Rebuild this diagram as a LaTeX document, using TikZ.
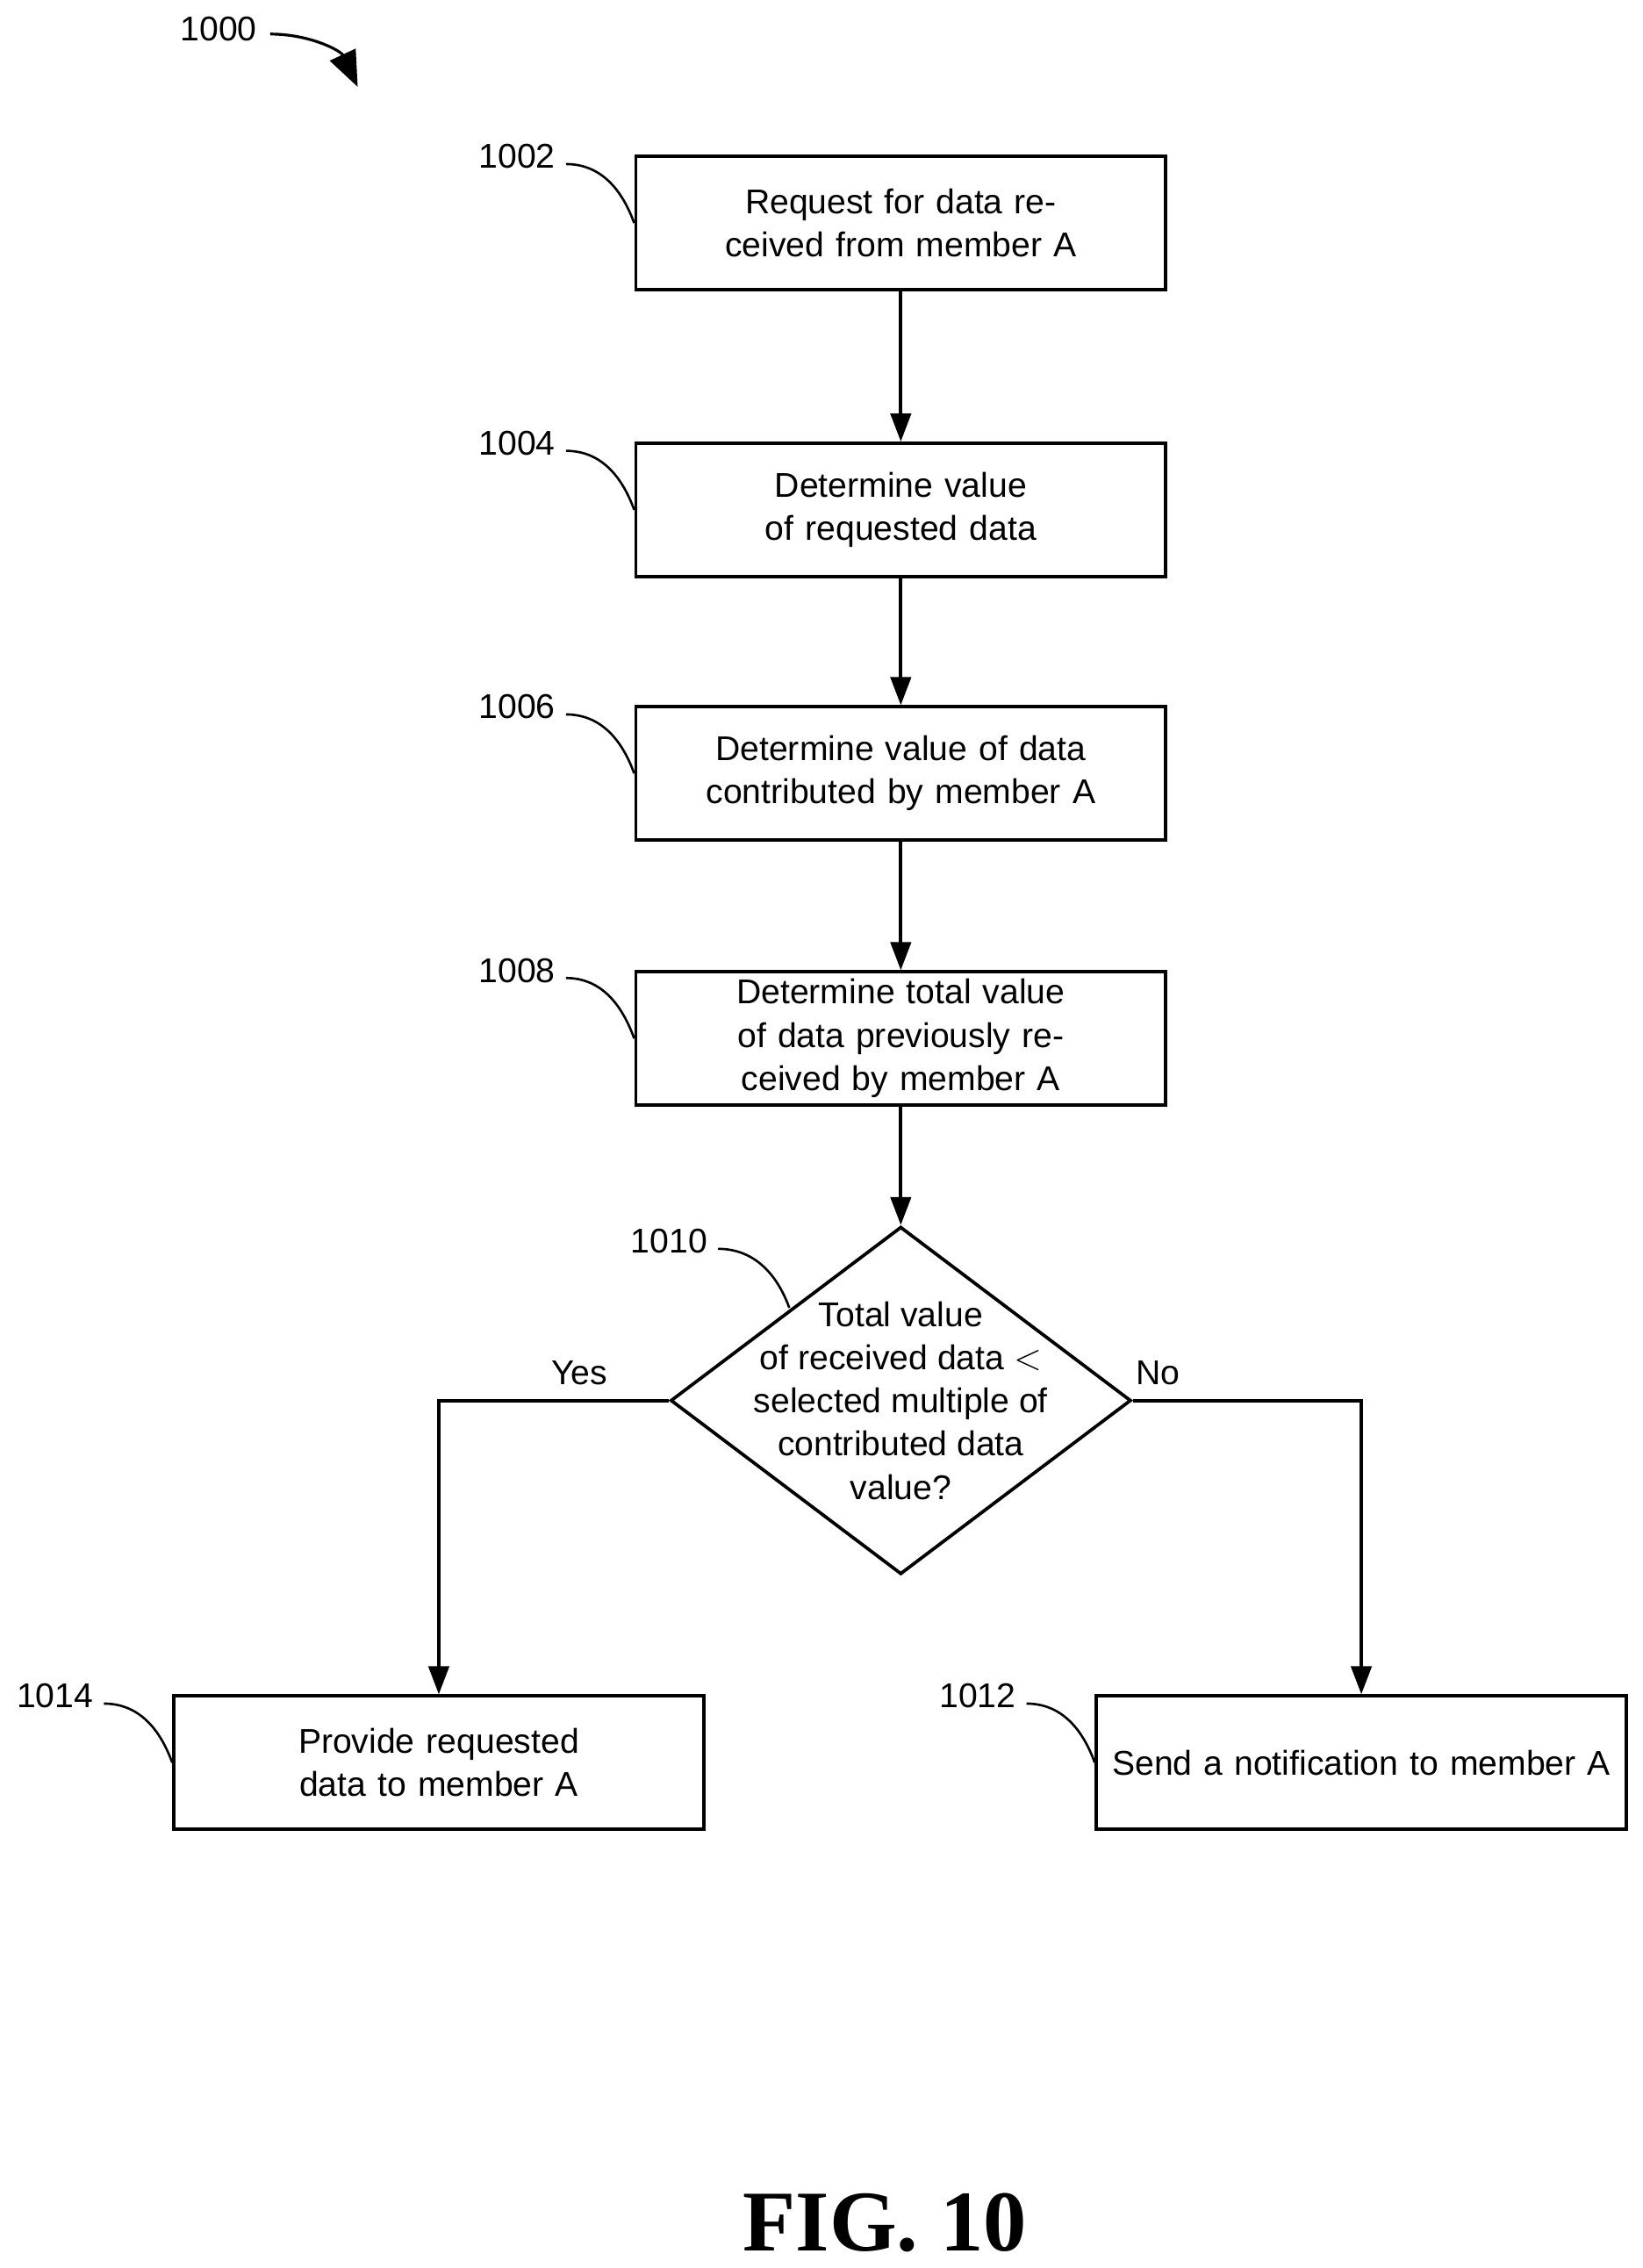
\documentclass[tikz,border=0pt]{standalone}
\usepackage{fontspec}
\setmainfont{Liberation Sans}
\newfontfamily\figfont{Liberation Serif}
\usetikzlibrary{arrows.meta,positioning,shapes.geometric}
\tikzset{
    process/.style={
           rectangle,
           draw=black, line width=1.3pt,
           minimum width=7.32cm, minimum height=1.84cm,
           text width=7cm, align=center,
           inner sep=2pt,
           },
    decision/.style={
           diamond, draw=black, line width=1.3pt,
           minimum width=6.36cm, minimum height=4.8cm, inner sep=0pt,
           },
    ref/.style={inner sep=1pt},
    leader/.style={line width=0.9pt},
    flow/.style={line width=1.3pt, -{Triangle[length=11pt,width=8pt]}},
}
\begin{document}
\begin{tikzpicture}[x=0.02cm,y=-0.02cm,font=\fontsize{13.5}{17}\selectfont]
  \useasboundingbox (0,0) rectangle (1134,1566);
  % steps
  \node[process] (B1) at (622,154) {Request for data received from member A};
  \node[process] (B2) at (622,352) {Determine value of requested data};
  \node[process] (B3) at (622,534) {Determine value of data contributed by member A};
  \node[process] (B4) at (622,717) {Determine total value of data previously received by member A};
  \node[decision] (D) at (622,967) {};
  \node[align=center] (Dtext) at (622,967) {Total value\\of received data $<$\\selected multiple of\\contributed data\\value?};
  \node[process] (B14) at (303,1217) {Provide requested data to member A};
  \node[process] (B12) at (940,1217) {Send a notification to member A};
  % flow
  \draw[flow] (B1) -- (B2);
  \draw[flow] (B2) -- (B3);
  \draw[flow] (B3) -- (B4);
  \draw[flow] (B4) -- (D);
  \draw[flow] (D.west) -| node[pos=0.25,above=2pt,xshift=10pt]{Yes} (B14.north);
  \draw[flow] (D.east) -| node[pos=0.25,above=2pt,xshift=-35pt]{No} (B12.north);
  % reference numerals
  \node[ref] (L1000) at (151,20) {1000};
  \node[ref] (L1002) at (357,108) {1002};
  \node[ref] (L1004) at (357,306) {1004};
  \node[ref] (L1006) at (357,488) {1006};
  \node[ref] (L1008) at (357,670) {1008};
  \node[ref] (L1010) at (462,857) {1010};
  \node[ref] (L1014) at (38,1171) {1014};
  \node[ref] (L1012) at (675,1171) {1012};
  \coordinate (Dlead) at (545,903);
  \coordinate (Arr) at (247,60);
  \draw[line width=1.1pt,-{Triangle[length=14pt,width=11pt]}] (L1000.east) ++(4pt,-2pt) to[out=0,in=115] (Arr);
  \draw[leader] (L1002.east) ++(3pt,-3pt) to[out=0,in=110] (B1.west);
  \draw[leader] (L1004.east) ++(3pt,-3pt) to[out=0,in=110] (B2.west);
  \draw[leader] (L1006.east) ++(3pt,-3pt) to[out=0,in=110] (B3.west);
  \draw[leader] (L1008.east) ++(3pt,-3pt) to[out=0,in=110] (B4.west);
  \draw[leader] (L1010.east) ++(3pt,-3pt) to[out=0,in=110] (Dlead);
  \draw[leader] (L1014.east) ++(3pt,-3pt) to[out=0,in=110] (B14.west);
  \draw[leader] (L1012.east) ++(3pt,-3pt) to[out=0,in=110] (B12.west);
  % caption
  \node (Fig) at (611,1535) {\figfont\bfseries\fontsize{34}{40}\selectfont FIG. 10};
\end{tikzpicture}
\end{document}
